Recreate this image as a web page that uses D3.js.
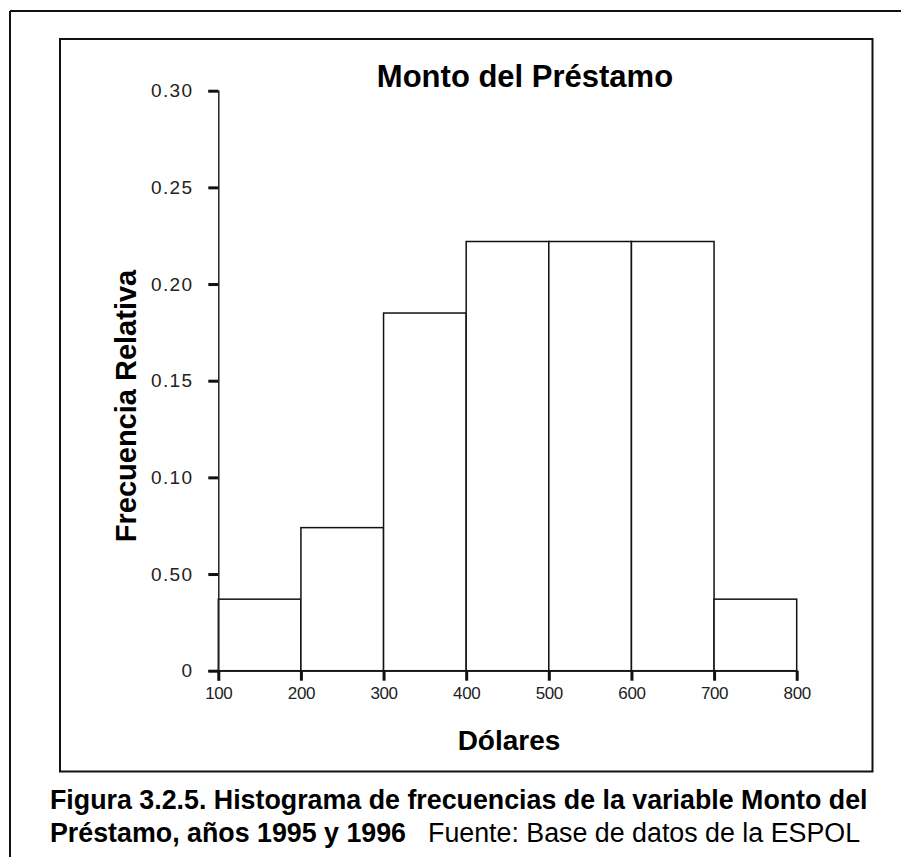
<!DOCTYPE html>
<html>
<head>
<meta charset="utf-8">
<script src="https://cdn.jsdelivr.net/npm/d3@7"></script>
<style>
  html, body { margin: 0; padding: 0; background: #fff; }
  svg { display: block; }
  text { font-family: "Liberation Sans", Arial, sans-serif; }
</style>
</head>
<body>
<svg id="chart" width="901" height="857"></svg>
<script>
// ---- data ----
const binStarts = [100, 200, 300, 400, 500, 600, 700];
const binEnds   = [200, 300, 400, 500, 600, 700, 800];
const relFreq   = [0.037, 0.074, 0.185, 0.222, 0.222, 0.222, 0.037];
const yTickValues = [0, 0.05, 0.10, 0.15, 0.20, 0.25, 0.30];
const yTickLabels = ["0", "0.50", "0.10", "0.15", "0.20", "0.25", "0.30"];
const xTickValues = [100, 200, 300, 400, 500, 600, 700, 800];
const titleText = "Monto del Préstamo";
const xLabelText = "Dólares";
const yLabelText = "Frecuencia Relativa";
const captionBold1 = "Figura 3.2.5. Histograma de frecuencias de la variable Monto del";
const captionBold2 = "Préstamo, años 1995 y 1996";
const captionNormal = "Fuente: Base de datos de la ESPOL";

const svg = d3.select("#chart");

// outer frame (left and top only)
svg.append("line").attr("x1", 10).attr("y1", 11).attr("x2", 901).attr("y2", 11)
  .attr("stroke", "#111").attr("stroke-width", 2);
svg.append("line").attr("x1", 10).attr("y1", 11).attr("x2", 10).attr("y2", 857)
  .attr("stroke", "#111").attr("stroke-width", 2);

// inner frame
svg.append("rect").attr("x", 60).attr("y", 39).attr("width", 812.5).attr("height", 732.5)
  .attr("fill", "none").attr("stroke", "#111").attr("stroke-width", 2);

const x = d3.scaleLinear().domain([100, 800]).range([218.3, 796.7]);
const y = d3.scaleLinear().domain([0, 0.30]).range([670.7, 90.7]);

// bars
const bins = binStarts.map((s, i) => ({ x0: s, x1: binEnds[i], v: relFreq[i] }));
svg.append("g").selectAll("rect").data(bins).join("rect")
  .attr("x", d => x(d.x0))
  .attr("y", d => y(d.v))
  .attr("width", d => x(d.x1) - x(d.x0))
  .attr("height", d => y(0) - y(d.v))
  .attr("fill", "#fff")
  .attr("stroke", "#111")
  .attr("stroke-width", 1.5);

// y axis
const yAxis = d3.axisLeft(y).tickValues(yTickValues)
  .tickFormat((d, i) => yTickLabels[i]).tickSize(10).tickPadding(15);
const gy = svg.append("g").attr("transform", `translate(${x(100)},0)`).call(yAxis);
gy.select(".domain").attr("stroke", "#222").attr("stroke-width", 1.5);
gy.selectAll(".tick line").attr("stroke", "#111").attr("stroke-width", 3);
gy.selectAll(".tick text").attr("fill", "#222")
  .style("font-size", "19px").style("letter-spacing", "1.3px")
  .style("font-family", "'Liberation Sans', Arial, sans-serif");

// x axis
const xAxis = d3.axisBottom(x).tickValues(xTickValues).tickFormat(d3.format("d"))
  .tickSize(10).tickPadding(6);
const gx = svg.append("g").attr("transform", `translate(0,${y(0)})`).call(xAxis);
gx.select(".domain").attr("stroke", "#222").attr("stroke-width", 1.5);
gx.selectAll(".tick line").attr("stroke", "#111").attr("stroke-width", 3);
gx.selectAll(".tick text").attr("fill", "#222")
  .style("font-size", "17px").style("letter-spacing", "-0.4px")
  .style("font-family", "'Liberation Sans', Arial, sans-serif");

// title
svg.append("text").attr("x", 525).attr("y", 86.5).attr("text-anchor", "middle")
  .style("font-size", "31px").style("font-weight", "bold").attr("fill", "#000")
  .text(titleText);

// x label
svg.append("text").attr("x", 509).attr("y", 750).attr("text-anchor", "middle")
  .style("font-size", "28px").style("font-weight", "bold").attr("fill", "#000")
  .text(xLabelText);

// y label
svg.append("text").attr("transform", "translate(136,406) rotate(-90)")
  .attr("text-anchor", "middle")
  .style("font-size", "29px").style("font-weight", "bold").attr("fill", "#000")
  .text(yLabelText);

// caption
svg.append("text").attr("x", 50).attr("y", 809)
  .style("font-size", "26.8px").style("font-weight", "bold").attr("fill", "#000")
  .text(captionBold1);
const cap2 = svg.append("text").attr("x", 50).attr("y", 842)
  .style("font-size", "26.8px").attr("fill", "#000");
cap2.append("tspan").style("font-weight", "bold").text(captionBold2);
cap2.append("tspan").attr("dx", 22).text(captionNormal);
</script>
</body>
</html>
